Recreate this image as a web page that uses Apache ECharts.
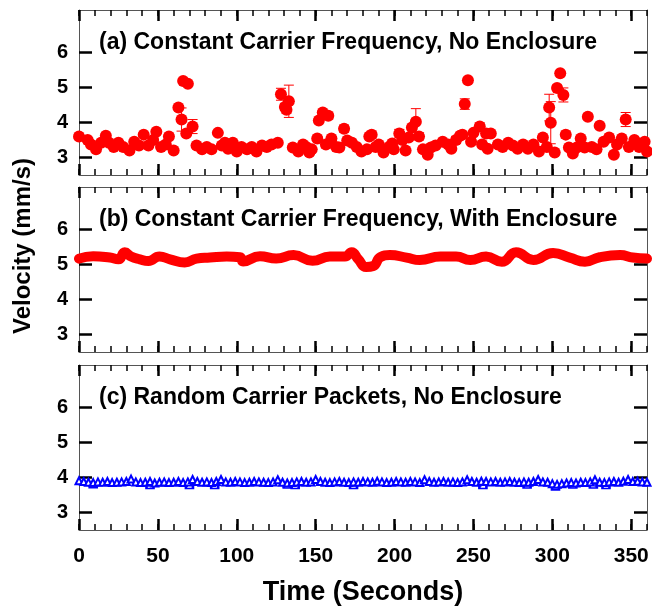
<!DOCTYPE html>
<html>
<head>
<meta charset="utf-8">
<script src="https://cdn.jsdelivr.net/npm/echarts@6/dist/echarts.min.js"></script>
<style>
  html, body { margin: 0; padding: 0; background: #fff; }
  #chart { width: 652px; height: 607px; }
</style>
</head>
<body>
<div id="chart"></div>
<script>
// panel (a): constant carrier frequency, no enclosure (time, velocity, error)
const timeA = [0, 5.5, 7.6, 10.8, 14, 17, 19, 22, 25, 28, 32, 35, 38, 41, 44, 47, 49, 52, 55, 57,
  60, 63, 65, 66, 68, 69, 72, 74.5, 78, 81, 84, 88, 90.5, 92.5, 94.5, 97.5, 100, 103, 106.5, 109.5,
  112.5, 116, 119, 122, 126, 128, 130.5, 131.5, 133, 135.5, 139, 142, 144, 146, 147.5, 151, 152, 154.5, 156.5, 158,
  160, 163, 165, 168, 170, 173, 176, 179, 182.5, 184, 185.5, 188, 190, 193, 196.5, 198.5, 199.5, 203, 205, 207,
  209, 211, 213.5, 215.5, 218, 221, 223, 226, 230.5, 234, 236, 239, 241.5, 243, 244.5, 246.5, 248.5, 250, 254, 255.5,
  258, 259, 261, 265.5, 268.5, 272, 275, 278, 281.5, 284.5, 288, 291.5, 294, 296.5, 298, 299, 301.5, 303, 305, 307,
  308.5, 310.5, 313, 315.5, 318, 320.5, 322.5, 325, 328, 330, 332.5, 336, 339, 341, 344, 346.5, 348.5, 352, 355, 358.5, 360];
const velA = [3.60, 3.50, 3.37, 3.23, 3.42, 3.62, 3.42, 3.30, 3.42, 3.30, 3.20, 3.45, 3.34, 3.65, 3.34, 3.50, 3.73, 3.30, 3.37, 3.60,
  3.20, 4.42, 4.08, 5.18, 3.68, 5.10, 3.88, 3.34, 3.23, 3.30, 3.23, 3.70, 3.34, 3.42, 3.25, 3.42, 3.17, 3.30, 3.23, 3.30,
  3.17, 3.34, 3.30, 3.37, 3.42, 4.80, 4.44, 4.36, 4.60, 3.28, 3.17, 3.37, 3.30, 3.14, 3.23, 3.54, 4.05, 4.28, 3.37, 4.19,
  3.54, 3.30, 3.28, 3.82, 3.48, 3.42, 3.30, 3.17, 3.23, 3.60, 3.65, 3.30, 3.37, 3.14, 3.30, 3.40, 3.23, 3.68, 3.50, 3.20,
  3.57, 3.85, 4.02, 3.60, 3.23, 3.08, 3.28, 3.34, 3.45, 3.37, 3.25, 3.50, 3.62, 3.65, 4.52, 5.20, 3.45, 3.70, 3.88, 3.37,
  3.68, 3.25, 3.68, 3.37, 3.30, 3.42, 3.34, 3.25, 3.37, 3.25, 3.37, 3.17, 3.57, 3.30, 4.42, 3.99, 3.14, 4.98, 5.40, 4.78,
  3.65, 3.28, 3.11, 3.28, 3.54, 3.28, 4.16, 3.30, 3.23, 3.90, 3.45, 3.57, 3.08, 3.37, 3.54, 4.08, 3.30, 3.50, 3.30, 3.45, 3.17];
const errA = [0, 0, 0, 0, 0, 0, 0, 0, 0, 0, 0, 0, 0, 0, 0, 0, 0, 0, 0, 0,
  0, 0.05, 0.33, 0, 0, 0, 0.2, 0, 0, 0, 0, 0, 0, 0, 0, 0, 0, 0, 0, 0,
  0, 0, 0, 0, 0, 0.17, 0.1, 0.1, 0.46, 0, 0, 0, 0, 0, 0, 0.06, 0, 0, 0.1, 0.1,
  0, 0, 0, 0.1, 0, 0, 0, 0, 0, 0, 0.1, 0, 0, 0, 0, 0, 0, 0.12, 0, 0,
  0, 0, 0.37, 0.1, 0, 0, 0, 0, 0, 0, 0, 0.1, 0, 0, 0.15, 0, 0.08, 0, 0.1, 0,
  0, 0, 0, 0, 0, 0, 0, 0, 0, 0, 0, 0, 0, 0, 0.38, 0.6, 0, 0.08, 0.05, 0.2,
  0.1, 0, 0, 0, 0, 0, 0.08, 0, 0, 0, 0, 0, 0, 0, 0, 0.2, 0, 0, 0, 0, 0];

// panel (b): constant carrier frequency, with enclosure
const timeB = [0, 9, 19.6, 25, 29, 33, 38.6, 44, 51, 57.7, 67, 74.5, 83, 93.6, 102, 104, 114.7, 125, 136, 148,
  159, 168.6, 172.8, 177, 182, 186.5, 191, 197, 207.6, 216, 229, 239, 248, 258, 268, 277, 288, 300.5, 311, 320.7,
  330, 343, 351, 360];
const velB = [5.16, 5.23, 5.19, 5.14, 5.34, 5.22, 5.14, 5.09, 5.22, 5.14, 5.05, 5.16, 5.19, 5.22, 5.20, 5.08, 5.23, 5.16, 5.26, 5.10,
  5.22, 5.22, 5.34, 5.14, 4.92, 4.95, 5.20, 5.26, 5.19, 5.12, 5.22, 5.22, 5.12, 5.22, 5.07, 5.34, 5.12, 5.32, 5.19, 5.07,
  5.20, 5.26, 5.19, 5.16];

// panel (c): random carrier packets, no enclosure (one sample every 3 s)
const stepC = 3;
const velC = [3.90, 3.88, 3.86, 3.85, 3.87, 3.86, 3.88, 3.85, 3.86, 3.87,
  3.88, 3.95, 3.87, 3.85, 3.86, 3.88, 3.84, 3.86, 3.87, 3.85,
  3.86, 3.88, 3.85, 3.87, 3.94, 3.88, 3.86, 3.87, 3.85, 3.88,
  3.94, 3.87, 3.86, 3.88, 3.87, 3.85, 3.86, 3.88, 3.87, 3.86,
  3.85, 3.87, 3.93, 3.86, 3.84, 3.85, 3.87, 3.88, 3.86, 3.87,
  3.94, 3.88, 3.86, 3.85, 3.87, 3.88, 3.86, 3.85, 3.87, 3.86,
  3.88, 3.87, 3.86, 3.89, 3.87, 3.85, 3.86, 3.88, 3.87, 3.86,
  3.88, 3.87, 3.85, 3.93, 3.88, 3.86, 3.87, 3.88, 3.86, 3.87,
  3.85, 3.87, 3.93, 3.88, 3.86, 3.89, 3.88, 3.87, 3.88, 3.86,
  3.87, 3.88, 3.86, 3.85, 3.87, 3.86, 3.88, 3.94, 3.87, 3.86,
  3.82, 3.80, 3.82, 3.84, 3.85, 3.84, 3.86, 3.85, 3.87, 3.93,
  3.86, 3.85, 3.87, 3.88, 3.86, 3.89, 3.94, 3.88, 3.89, 3.87,
  3.86];
const timeLow = [9, 45, 70, 86, 132, 137, 174, 256, 284, 302, 313, 326, 334];
const velLow = [3.76, 3.74, 3.74, 3.74, 3.75, 3.74, 3.74, 3.74, 3.75, 3.70, 3.75, 3.75, 3.74];

const panelTitles = [
  '(a) Constant Carrier Frequency, No Enclosure',
  '(b) Constant Carrier Frequency, With Enclosure',
  '(c) Random Carrier Packets, No Enclosure'
];
const xMajor = [0, 50, 100, 150, 200, 250, 300, 350];
const yMajor = [3, 4, 5, 6];

const FONT = '"Liberation Sans", Arial, sans-serif';
const gridTops = [10, 187, 365];
const frame = { show: true, onZero: false, lineStyle: { color: '#555', width: 1 } };

const xAxes = [];
const yAxes = [];
gridTops.forEach((top, g) => {
  ['bottom', 'top'].forEach((pos) => {
    // major ticks (and labels on the lowest panel)
    xAxes.push({
      gridIndex: g, type: 'value', min: 0, max: 360, position: pos,
      axisLine: frame,
      axisTick: {
        inside: true, length: 11, customValues: xMajor,
        lineStyle: { color: '#000', width: 2.5 }
      },
      axisLabel: {
        show: g === 2 && pos === 'bottom', customValues: xMajor, margin: 16,
        fontFamily: FONT, fontWeight: 'bold', fontSize: 21, color: '#000'
      },
      splitLine: { show: false }
    });
    // minor ticks every 10 s
    xAxes.push({
      gridIndex: g, type: 'value', min: 0, max: 360, interval: 10, position: pos,
      axisLine: { show: false },
      axisTick: { inside: true, length: 6, lineStyle: { color: '#000', width: 1.5 } },
      axisLabel: { show: false },
      splitLine: { show: false }
    });
  });
  ['left', 'right'].forEach((pos) => {
    yAxes.push({
      gridIndex: g, type: 'value', min: 2.5, max: 7.2, position: pos,
      axisLine: frame,
      axisTick: {
        inside: true, length: 13, customValues: yMajor,
        lineStyle: { color: '#000', width: 2.5 }
      },
      axisLabel: {
        show: pos === 'left', customValues: yMajor, margin: 11,
        fontFamily: FONT, fontWeight: 'bold', fontSize: 20, color: '#000'
      },
      splitLine: { show: false }
    });
  });
});

const errorBars = (xIdx, yIdx, data, color) => ({
  type: 'custom',
  xAxisIndex: xIdx,
  yAxisIndex: yIdx,
  data: data,
  renderItem(params, api) {
    const t = api.value(0), v = api.value(1), e = api.value(2);
    const hi = api.coord([t, v + e]);
    const lo = api.coord([t, v - e]);
    const w = 5;
    const style = { stroke: color, lineWidth: 1 };
    return {
      type: 'group',
      children: [
        { type: 'line', shape: { x1: hi[0], y1: hi[1], x2: lo[0], y2: lo[1] }, style },
        { type: 'line', shape: { x1: hi[0] - w, y1: hi[1], x2: hi[0] + w, y2: hi[1] }, style },
        { type: 'line', shape: { x1: lo[0] - w, y1: lo[1], x2: lo[0] + w, y2: lo[1] }, style }
      ]
    };
  }
});

const dataA = timeA.map((t, i) => [t, velA[i]]);
const errDataA = timeA.map((t, i) => [t, velA[i], errA[i]]).filter((d) => d[2] > 0);
const dataB = timeB.map((t, i) => [t, velB[i]]);
const dataC = velC.map((v, i) => [i * stepC, v]);
const dataLow = timeLow.map((t, i) => [t, velLow[i]]);

const option = {
  animation: false,
  backgroundColor: '#fff',
  title: panelTitles.map((text, g) => ({
    text,
    left: 99,
    top: gridTops[g] + 21,
    padding: 0,
    textStyle: { fontFamily: FONT, fontWeight: 'bold', fontSize: 23, color: '#000' }
  })),
  grid: gridTops.map((top) => ({ left: 79, right: 5, top, height: 165 })),
  xAxis: xAxes,
  yAxis: yAxes,
  graphic: [
    {
      type: 'text', x: 23, y: 246, rotation: Math.PI / 2,
      style: {
        text: 'Velocity (mm/s)', textAlign: 'center', textVerticalAlign: 'middle',
        font: 'bold 24px ' + FONT, fill: '#000'
      }
    },
    {
      type: 'text', x: 363, y: 593,
      style: {
        text: 'Time (Seconds)', textAlign: 'center', textVerticalAlign: 'middle',
        font: 'bold 27px ' + FONT, fill: '#000'
      }
    }
  ],
  series: [
    errorBars(0, 0, errDataA, '#ff0000'),
    {
      type: 'scatter', xAxisIndex: 0, yAxisIndex: 0, data: dataA,
      symbol: 'circle', symbolSize: 12, clip: false,
      itemStyle: { color: '#ff0000', opacity: 1 }
    },
    {
      type: 'line', xAxisIndex: 4, yAxisIndex: 2, data: dataB,
      smooth: 0.5, showSymbol: false, clip: false,
      lineStyle: { color: '#ff0000', width: 10, cap: 'round', join: 'round' }
    },
    {
      type: 'line', xAxisIndex: 8, yAxisIndex: 4, data: dataC,
      symbol: 'emptyTriangle', symbolSize: 7,
      lineStyle: { color: '#0000ff', width: 1 },
      itemStyle: { color: '#0000ff', borderWidth: 1 }
    },
    {
      type: 'scatter', xAxisIndex: 8, yAxisIndex: 4, data: dataLow,
      symbol: 'emptyRect', symbolSize: [7, 4],
      itemStyle: { color: '#0000ff', borderWidth: 1, opacity: 1 }
    }
  ]
};

const chart = echarts.init(document.getElementById('chart'), null, { renderer: 'canvas' });
chart.setOption(option);
</script>
</body>
</html>
